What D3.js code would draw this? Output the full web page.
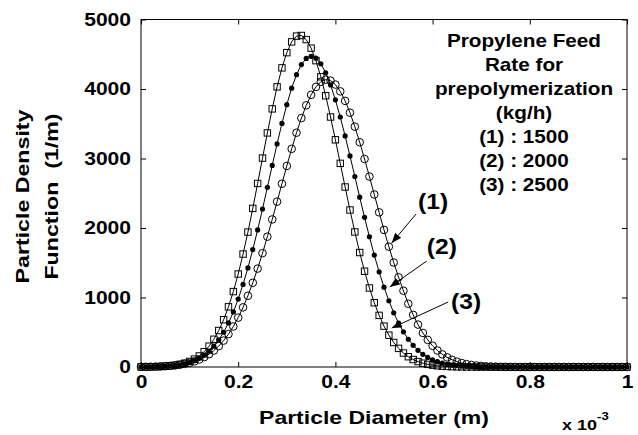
<!DOCTYPE html>
<html><head><meta charset="utf-8">
<script src="https://cdn.jsdelivr.net/npm/d3@7/dist/d3.min.js"></script>
<style>
body{margin:0;background:#fff}
text{font-family:Arial,"Liberation Sans",Helvetica,sans-serif;font-weight:bold;fill:#000}
</style>
</head><body>
<svg id="chart" width="638" height="435"></svg>
<script>
// ---------------- data (x in units of 1e-3 m) ----------------
const diameter = [0,0.01,0.02,0.03,0.04,0.05,0.06,0.07,0.08,0.09,0.1,0.11,0.12,0.13,0.14,0.15,0.16,0.17,0.18,0.19,0.2,0.21,0.22,0.23,0.24,0.25,0.26,0.27,0.28,0.29,0.3,0.31,0.32,0.33,0.34,0.35,0.36,0.37,0.38,0.39,0.4,0.41,0.42,0.43,0.44,0.45,0.46,0.47,0.48,0.49,0.5,0.51,0.52,0.53,0.54,0.55,0.56,0.57,0.58,0.59,0.6,0.61,0.62,0.63,0.64,0.65,0.66,0.67,0.68,0.69,0.7,0.71,0.72,0.73,0.74,0.75,0.76,0.77,0.78,0.79,0.8,0.81,0.82,0.83,0.84,0.85,0.86,0.87,0.88,0.89,0.9,0.91,0.92,0.93,0.94,0.95,0.96,0.97,0.98,0.99,1];

// (1) 1500 kg/h  -- open circles
const feed1500 = [2,3,4,6,8,12,17,23,33,45,60,81,108,142,184,237,301,380,473,583,711,858,1025,1212,1416,1638,1875,2123,2379,2637,2893,3139,3371,3582,3765,3916,4030,4104,4134,4121,4064,3966,3829,3659,3458,3234,2993,2740,2482,2225,1973,1731,1503,1291,1097,910,750,610,490,390,305,237,182,138,104,77,57,41,30,21,15,10,7,5,3,2,1,1,0,0,0,0,0,0,0,0,0,0,0,0,0,0,0,0,0,0,0,0,0,0,0];
// (2) 2000 kg/h  -- filled dots
const feed2000 = [1,2,3,4,7,10,15,22,32,46,65,91,125,170,227,299,389,500,634,792,977,1188,1426,1689,1973,2273,2585,2900,3210,3504,3775,4012,4206,4351,4440,4470,4443,4363,4234,4058,3844,3597,3325,3037,2741,2444,2153,1874,1611,1369,1149,953,780,632,506,399,312,240,183,138,103,76,55,39,28,20,14,9,6,4,3,2,1,1,0,0,0,0,0,0,0,0,0,0,0,0,0,0,0,0,0,0,0,0,0,0,0,0,0,0,0];
// (3) 2500 kg/h  -- open squares
const feed2500 = [1,2,3,4,7,11,17,25,38,55,80,114,159,220,299,399,525,680,866,1085,1338,1625,1941,2282,2641,3006,3368,3714,4031,4304,4523,4678,4761,4770,4711,4588,4408,4176,3903,3597,3269,2930,2590,2259,1943,1647,1378,1137,925,743,588,458,353,268,201,148,108,78,55,38,27,18,12,8,5,3,2,1,1,0,0,0,0,0,0,0,0,0,0,0,0,0,0,0,0,0,0,0,0,0,0,0,0,0,0,0,0,0,0,0,0];

const xTicks = [0,0.2,0.4,0.6,0.8,1];
const xTickLabels = ["0","0.2","0.4","0.6","0.8","1"];
const yTicks = [0,1000,2000,3000,4000,5000];
const yTickLabels = ["0","1000","2000","3000","4000","5000"];
const xTitle = "Particle Diameter (m)";
const yTitleLines = ["Particle Density","Function  (1/m)"];
const legendLines = ["Propylene Feed","Rate for","prepolymerization","(kg/h)","(1) : 1500","(2) : 2000","(3) : 2500"];
const calloutLabels = ["(1)","(2)","(3)"];
// label position and arrow start/tip, in data units
const calloutLabelX = [0.601,0.619,0.669];
const calloutLabelY = [2270,1626,835];
const arrowFromX = [0.566,0.588,0.632];
const arrowFromY = [2201,1525,935];
const arrowToX = [0.516,0.512,0.516];
const arrowToY = [1784,1151,561];

// ---------------- layout ----------------
const svg = d3.select("#chart");
const L = 141, R = 627, T = 19.5, B = 367;
const x = d3.scaleLinear().domain([0,1]).range([L,R]);
const y = d3.scaleLinear().domain([0,5000]).range([B,T]);

// frame
svg.append("rect").attr("x",L).attr("y",T).attr("width",R-L).attr("height",B-T)
  .attr("fill","none").attr("stroke","#000").attr("stroke-width",1);

// axes with inward ticks
const tickLen = 5;
const gx = svg.append("g").attr("transform",`translate(0,${B})`)
  .call(d3.axisBottom(x).tickValues(xTicks).tickFormat((d,i)=>xTickLabels[i]).tickSize(-tickLen).tickPadding(8));
const gxt = svg.append("g").attr("transform",`translate(0,${T})`)
  .call(d3.axisTop(x).tickValues(xTicks).tickFormat("").tickSize(-tickLen));
const gy = svg.append("g").attr("transform",`translate(${L},0)`)
  .call(d3.axisLeft(y).tickValues(yTicks).tickFormat((d,i)=>yTickLabels[i]).tickSize(-tickLen).tickPadding(10));
const gyr = svg.append("g").attr("transform",`translate(${R},0)`)
  .call(d3.axisRight(y).tickValues(yTicks).tickFormat("").tickSize(-tickLen));
[gx,gxt,gy,gyr].forEach(g=>{
  g.select(".domain").remove();
  g.selectAll("line").attr("stroke","#000");
});
const tickFont = 18, tickStretch = 1.17;
gx.selectAll("text").attr("font-size",tickFont).attr("font-family",null)
  .attr("transform",`scale(${tickStretch},1)`);
gy.selectAll("text").attr("font-size",tickFont).attr("font-family",null)
  .attr("x",-10/tickStretch).attr("transform",`scale(${tickStretch},1)`);

// helper for stretched text
function stretchedText(px,py,str,size,stretch,rot){
  const g = svg.append("g").attr("transform",`translate(${px},${py}) rotate(${rot||0}) scale(${stretch},1)`);
  return g.append("text").attr("text-anchor","middle").attr("font-size",size)
    .style("white-space","pre").text(str);
}

// axis titles
stretchedText(374,424,xTitle,19,1.21);
stretchedText(29,196.5,yTitleLines[0],19,1.22,-90);
stretchedText(58,196.5,yTitleLines[1],19,1.22,-90);
// x 10^-3
const ex = svg.append("g").attr("transform","translate(562,430) scale(1.2,1)");
const et = ex.append("text").attr("font-size",15).attr("text-anchor","start");
et.append("tspan").text("x 10");
et.append("tspan").attr("font-size",11).attr("dy",-10).text("-3");

// curves
const series = [
  {vals:feed1500, type:"circle"},
  {vals:feed2000, type:"dot"},
  {vals:feed2500, type:"square"}
];
const line = d3.line().x((d,i)=>x(diameter[i])).y(d=>y(d));
series.forEach(s=>{
  svg.append("path").datum(s.vals).attr("d",line)
    .attr("fill","none").attr("stroke","#000").attr("stroke-width",1);
});
series.forEach(s=>{
  const g = svg.append("g");
  if(s.type==="circle"){
    g.selectAll("circle").data(s.vals).join("circle")
      .attr("cx",(d,i)=>x(diameter[i])).attr("cy",d=>y(d)).attr("r",3.8)
      .attr("fill","none").attr("stroke","#000").attr("stroke-width",1);
  } else if(s.type==="dot"){
    g.selectAll("circle").data(s.vals).join("circle")
      .attr("cx",(d,i)=>x(diameter[i])).attr("cy",d=>y(d)).attr("r",2.6)
      .attr("fill","#000");
  } else {
    const a = 6.4;
    g.selectAll("rect").data(s.vals).join("rect")
      .attr("x",(d,i)=>x(diameter[i])-a/2).attr("y",d=>y(d)-a/2)
      .attr("width",a).attr("height",a)
      .attr("fill","none").attr("stroke","#000").attr("stroke-width",1);
  }
});

// legend text block
const legBase = [47,71,95,119,143,167,191];
legendLines.forEach((t,i)=>stretchedText(524,legBase[i],t,18,1.15));

// callouts with arrows
const defs = svg.append("defs");
defs.append("marker").attr("id","arrow").attr("viewBox","0 0 10 8")
  .attr("refX",10).attr("refY",4).attr("markerWidth",10).attr("markerHeight",8)
  .attr("markerUnits","userSpaceOnUse").attr("orient","auto")
  .append("path").attr("d","M0,0 L10,4 L0,8 Z").attr("fill","#000");
calloutLabels.forEach((lab,i)=>{
  svg.append("line")
    .attr("x1",x(arrowFromX[i])).attr("y1",y(arrowFromY[i]))
    .attr("x2",x(arrowToX[i])).attr("y2",y(arrowToY[i]))
    .attr("stroke","#000").attr("stroke-width",1).attr("marker-end","url(#arrow)");
  stretchedText(x(calloutLabelX[i]),y(calloutLabelY[i]),lab,22,1.12);
});
</script>
</body></html>
